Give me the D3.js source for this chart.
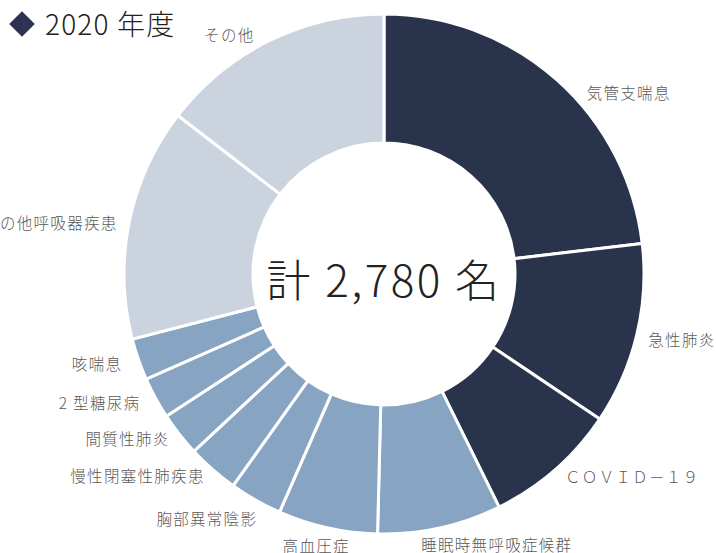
<!DOCTYPE html>
<html>
<head>
<meta charset="utf-8">
<script src="https://cdn.jsdelivr.net/npm/d3@7"></script>
<style>
  body { margin: 0; background: #fff; }
  text { font-family: "Noto Sans CJK JP", "Noto Sans", sans-serif; }
</style>
</head>
<body>
<div id="container"></div>
<script>
/* DATA */
const categories = ["気管支喘息", "急性肺炎", "ＣＯＶＩＤ－１９", "睡眠時無呼吸症候群", "高血圧症",
  "胸部異常陰影", "慢性閉塞性肺疾患", "間質性肺炎", "2 型糖尿病", "咳喘息", "その他呼吸器疾患", "その他"];
const counts = [643, 314, 230, 214, 172, 91, 89, 76, 72, 72, 402, 405];
const groups = ["top", "top", "top", "mid", "mid", "mid", "mid", "mid", "mid", "mid", "other", "other"];
const titleText = "2020 年度";
const totalText = "計 2,780 名";

/* CONSTANTS */
const width = 716, height = 553;
const cx = 384, cy = 274, outerR = 260, innerR = 131, labelR = 275;
const colors = { top: "#29344c", mid: "#87a4c3", other: "#cbd3de" };
// small nudges so labels sit like the original layout
const nudge = {
  "気管支喘息": [20, 25], "急性肺炎": [-3, 2], "ＣＯＶＩＤ－１９": [0, -3], "睡眠時無呼吸症候群": [-22, 3],
  "高血圧症": [-8, 4], "胸部異常陰影": [9, 6], "慢性閉塞性肺疾患": [2, -4], "間質性肺炎": [2, -4],
  "2 型糖尿病": [-2, -2], "咳喘息": [-2, 0], "その他呼吸器疾患": [3, 5], "その他": [-8, 8]
};

const data = categories.map((c, i) => ({ name: c, value: counts[i], group: groups[i] }));

const svg = d3.select("#container")
  .append("svg")
  .attr("width", width)
  .attr("height", height);

const pie = d3.pie().value(d => d.value).sort(null);
const arc = d3.arc().innerRadius(innerR).outerRadius(outerR);
const arcs = pie(data);

const g = svg.append("g").attr("transform", `translate(${cx},${cy})`);

g.selectAll("path.slice")
  .data(arcs)
  .join("path")
  .attr("class", "slice")
  .attr("d", arc)
  .attr("fill", d => colors[d.data.group])
  .attr("stroke", "#fff")
  .attr("stroke-width", 3)
  .attr("stroke-linejoin", "miter");

// labels
g.selectAll("text.label")
  .data(arcs)
  .join("text")
  .attr("class", "label")
  .attr("x", d => {
    const a = (d.startAngle + d.endAngle) / 2;
    return labelR * Math.sin(a) + nudge[d.data.name][0];
  })
  .attr("y", d => {
    const a = (d.startAngle + d.endAngle) / 2;
    return -labelR * Math.cos(a) + nudge[d.data.name][1];
  })
  .attr("dy", "0.35em")
  .attr("text-anchor", d => {
    const deg = (d.startAngle + d.endAngle) / 2 * 180 / Math.PI;
    if (deg < 175) return "start";
    if (deg < 200) return "middle";
    return "end";
  })
  .style("font-size", "15.5px")
  .style("font-weight", 300)
  .style("letter-spacing", "1.3px")
  .style("fill", "#595959")
  .text(d => d.data.name);

// center total
g.append("text")
  .attr("x", 0)
  .attr("y", 8)
  .attr("dy", "0.35em")
  .attr("text-anchor", "middle")
  .style("font-size", "44px")
  .style("font-weight", 300)
  .style("letter-spacing", "2.5px")
  .style("fill", "#222")
  .text(totalText);

// title
svg.append("path")
  .attr("d", d3.symbol().type(d3.symbolDiamond2).size(420))
  .attr("transform", "translate(22,24)")
  .attr("fill", "#2e3352");

svg.append("text")
  .attr("x", 45)
  .attr("y", 35)
  .style("font-size", "28px")
  .style("font-weight", 300)
  .style("letter-spacing", "1.2px")
  .style("fill", "#222")
  .text(titleText);
</script>
</body>
</html>
